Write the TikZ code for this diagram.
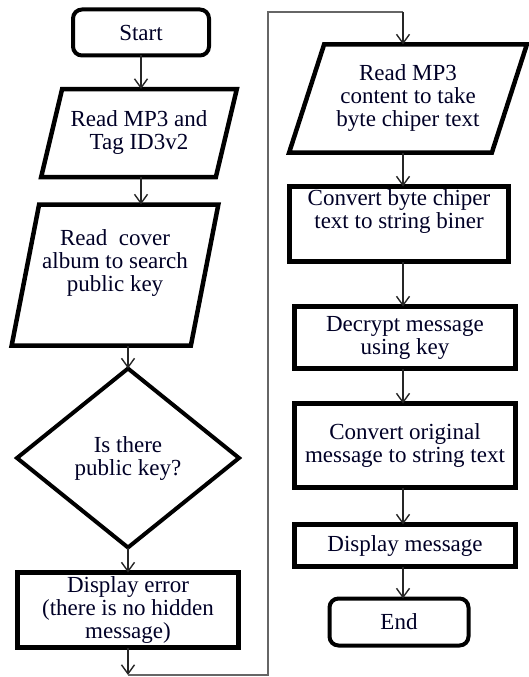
\documentclass[tikz,border=0pt]{standalone}
\usepackage{fontspec}
\setmainfont{Liberation Serif}
\usetikzlibrary{shapes.geometric,arrows.meta}
\begin{document}
\begin{tikzpicture}[x=1pt,y=-1pt,
  every node/.style={font=\fontsize{23}{23}\selectfont, align=center, inner sep=0pt, outer sep=0pt, text=black!85!blue},
  procbox/.style={draw, rectangle, line width=4.5pt},
  termbox/.style={draw, rectangle, rounded corners=9pt, line width=4pt},
  iobox/.style={draw, trapezium, trapezium stretches=true, line width=4.5pt},
  decbox/.style={draw, diamond, line width=4pt},
  arr/.style={draw=black!85, line width=1.4pt, -{Straight Barb[length=9pt,width=13pt]}},
  loopline/.style={draw=black!60, line width=1.5pt}]
\useasboundingbox (0,0) rectangle (528,677);

% left column
\node[termbox, minimum width=136, minimum height=46] (start) at (141,32.5) {Start};
\node[iobox, trapezium left angle=67, trapezium right angle=113, minimum width=196, minimum height=88] (par1) at (139,133) {Read MP3 and\\Tag ID3v2};
\node[iobox, trapezium left angle=74, trapezium right angle=106, minimum width=207, minimum height=141] (par2) at (115,275) {Read~~cover\\album to search\\public key\\\strut};
\node[decbox, minimum width=222, minimum height=179] (dec) at (128,458) {Is there\\public key?};
\node[procbox, minimum width=221, minimum height=75] (err) at (128,610) {Display error\\(there is no hidden\\message)};

% right column
\node[iobox, trapezium left angle=66, trapezium right angle=114, minimum width=238, minimum height=108] (par3) at (408,98.5) {Read MP3\\content to take\\byte chiper text};
\node[procbox, minimum width=219, minimum height=75] (cbin) at (399,224) {Convert byte chiper\\text to string biner\\\strut};
\node[procbox, minimum width=221, minimum height=62] (dcr) at (405,337.5) {Decrypt message\\using key};
\node[procbox, minimum width=221, minimum height=84] (corg) at (405,445.5) {Convert original\\message to string text};
\node[procbox, minimum width=221, minimum height=42] (dmsg) at (405,545.5) {Display message};
\node[termbox, minimum width=139, minimum height=47] (end) at (399,622) {End};

% helper coordinates
\coordinate (lc) at (141,0);
\coordinate (rc) at (403,0);
\coordinate (bot) at (128,675);
\coordinate (b1) at (268,675);
\coordinate (t1) at (268,12);
\coordinate (t2) at (403,12);

% connectors
\draw[arr] (start.south) -- (start.south |- par1.north);
\draw[arr] (par1.south -| lc) -- (par2.north -| lc);
\draw[arr] (par2.south -| dec) -- (dec.north);
\draw[arr] (dec.south) -- (err.north);
\draw[arr] (err.south) -- (bot);
\draw[loopline] (bot) -- (b1) -- (t1) -- (t2);
\draw[arr] (t2) -- (par3.north -| rc);
\draw[arr] (par3.south -| rc) -- (cbin.north -| rc);
\draw[arr] (cbin.south -| rc) -- (dcr.north -| rc);
\draw[arr] (dcr.south -| rc) -- (corg.north -| rc);
\draw[arr] (corg.south -| rc) -- (dmsg.north -| rc);
\draw[arr] (dmsg.south -| rc) -- (end.north -| rc);
\end{tikzpicture}
\end{document}
